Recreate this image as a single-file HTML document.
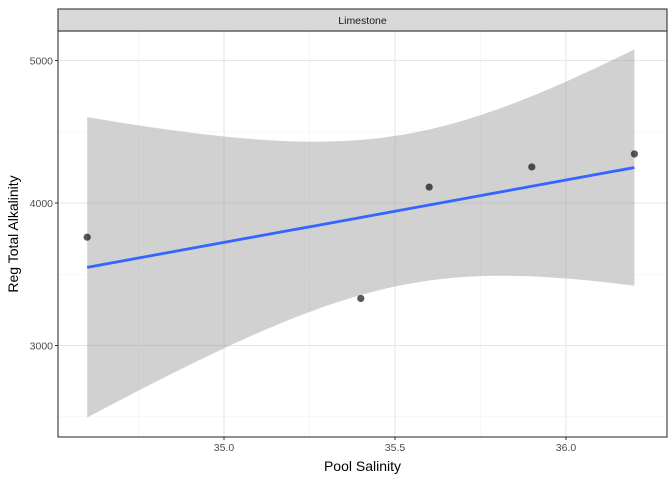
<!DOCTYPE html>
<html><head><meta charset="utf-8"><style>
body{margin:0;background:#fff;font-family:"Liberation Sans",sans-serif}
</style></head><body>
<svg id="c" width="672" height="480" xmlns="http://www.w3.org/2000/svg"></svg>
<script>
const salinity=[34.6,35.4,35.6,35.9,36.2];
const alkalinity=[3760,3330,4112,4253,4344];
const xTicks=[35.0,35.5,36.0];
const xTickLabels=["35.0","35.5","36.0"];
const yTicks=[3000,4000,5000];
const yTickLabels=["3000","4000","5000"];
const xMinor=[34.75,35.25,35.75];
const yMinor=[2500,3500,4500];

const L=58,R=667,T=31,B=437;
const sx=v=>224+(v-35)*342;
const sy=v=>203-(v-4000)*0.1425;
const NS="http://www.w3.org/2000/svg";
const svg=document.getElementById('c');
function mk(tag,attrs,parent){const e=document.createElementNS(NS,tag);for(const k in attrs)e.setAttribute(k,attrs[k]);(parent||svg).appendChild(e);return e;}

// panel bg
const bg=mk('rect',{x:L,y:T,width:R-L,height:B-T,fill:'#fff'});


xMinor.forEach(v=>{const l=mk('line',{x1:sx(v),x2:sx(v),y1:T,y2:B,stroke:'#f0f0f0','stroke-width':0.6});

});
yMinor.forEach(v=>{const l=mk('line',{x1:L,x2:R,y1:sy(v),y2:sy(v),stroke:'#f0f0f0','stroke-width':0.6});

});
xTicks.forEach(v=>{const l=mk('line',{x1:sx(v),x2:sx(v),y1:T,y2:B,stroke:'#e6e6e6','stroke-width':1.1});

});
yTicks.forEach(v=>{const l=mk('line',{x1:L,x2:R,y1:sy(v),y2:sy(v),stroke:'#e6e6e6','stroke-width':1.1});

});

// regression
const n=salinity.length;
const mx=salinity.reduce((a,b)=>a+b)/n, my=alkalinity.reduce((a,b)=>a+b)/n;
let sxx=0,sxy=0;for(let i=0;i<n;i++){sxx+=(salinity[i]-mx)**2;sxy+=(salinity[i]-mx)*(alkalinity[i]-my);}
const b=sxy/sxx,a=my-b*mx;
let sse=0;for(let i=0;i<n;i++)sse+=(alkalinity[i]-a-b*salinity[i])**2;
const s=Math.sqrt(sse/(n-2)), tq=3.182;
const x0=Math.min(...salinity),x1=Math.max(...salinity);
const up=[],lo=[],ln=[];
for(let k=0;k<=80;k++){const x=x0+(x1-x0)*k/80;const f=a+b*x;const se=s*Math.sqrt(1/n+(x-mx)**2/sxx);
up.push(sx(x)+','+sy(f+tq*se));lo.unshift(sx(x)+','+sy(f-tq*se));ln.push(sx(x)+','+sy(f));}
const band=mk('polygon',{points:up.concat(lo).join(' '),fill:'#999','fill-opacity':0.45});


const line=mk('polyline',{points:ln.join(' '),fill:'none',stroke:'#3366FF','stroke-width':2.8});



salinity.forEach((v,i)=>{const c=mk('circle',{cx:sx(v),cy:sy(alkalinity[i]),r:3.6,fill:'#000','fill-opacity':0.65});

});

const border=mk('rect',{x:L,y:T,width:R-L,height:B-T,fill:'none',stroke:'#333','stroke-width':1.1});



// strip
const strip=mk('rect',{x:L,y:9,width:R-L,height:22,fill:'#d9d9d9',stroke:'#333','stroke-width':1.1});


const st=mk('text',{x:(L+R)/2,y:24,'text-anchor':'middle','font-size':'10.5',fill:'#1a1a1a'});st.textContent='Limestone';



// ticks
xTicks.forEach((v,i)=>{const l=mk('line',{x1:sx(v),x2:sx(v),y1:B,y2:B+3,stroke:'#333'});


const t=mk('text',{x:sx(v),y:B+14,'text-anchor':'middle','font-size':'10.5',fill:'#4d4d4d'});t.textContent=xTickLabels[i];

});
yTicks.forEach((v,i)=>{const l=mk('line',{x1:L-3,x2:L,y1:sy(v),y2:sy(v),stroke:'#333'});


const t=mk('text',{x:L-5,y:sy(v)+4,'text-anchor':'end','font-size':'10.5',fill:'#4d4d4d'});t.textContent=yTickLabels[i];

});

const xt=mk('text',{x:(L+R)/2,y:471,'text-anchor':'middle','font-size':'14',fill:'#000'});xt.textContent='Pool Salinity';


const yt=mk('text',{x:18,y:(T+B)/2,'text-anchor':'middle','font-size':'14',fill:'#000',transform:`rotate(-90 18 ${(T+B)/2})`});yt.textContent='Reg Total Alkalinity';


</script>
</body></html>
